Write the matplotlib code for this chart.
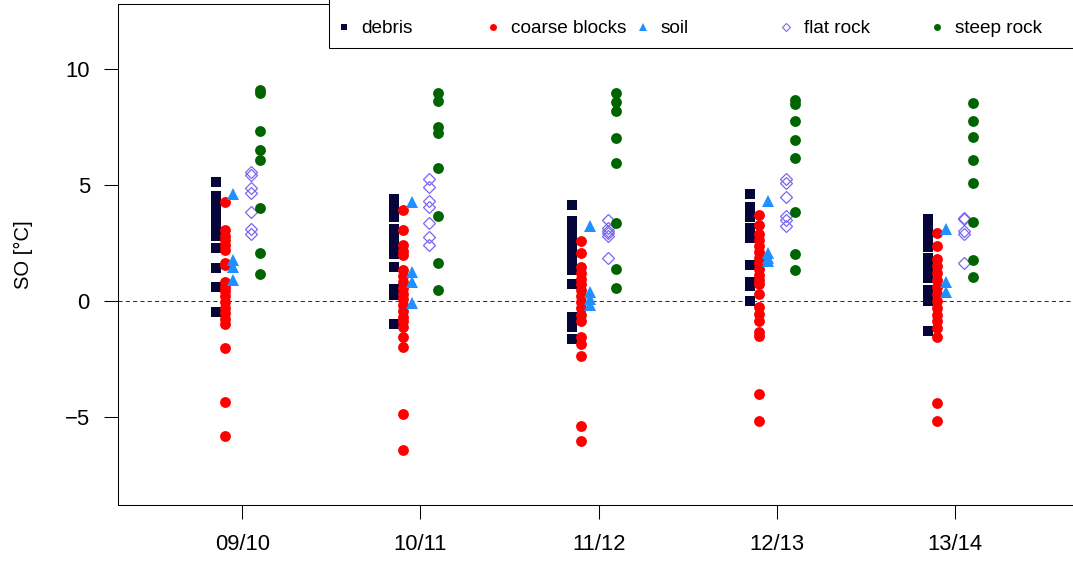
import numpy as np
import matplotlib.pyplot as plt
from matplotlib.patches import Rectangle

plt.rcParams['font.family'] = ['Liberation Sans', 'DejaVu Sans']

seasons = ['09/10', '10/11', '11/12', '12/13', '13/14']

# SO values per season (one list per season) for each surface type
debris = [
    [5.1, 4.49, 4.15, 3.8, 3.45, 3.1, 2.78, 2.25, 1.39, 0.58, -0.5],
    [4.39, 4.0, 3.61, 3.1, 2.75, 2.4, 2.03, 1.46, 0.52, 0.23, -1.0],
    [4.13, 3.45, 3.05, 2.6, 2.2, 1.75, 1.31, 0.72, -0.7, -1.15, -1.67],
    [4.58, 4.02, 3.6, 3.15, 2.71, 1.54, 0.8, 0.63, -0.01],
    [3.5, 3.1, 2.7, 2.3, 1.85, 1.4, 0.99, 0.47, 0.2, -0.02, -1.31],
]
coarse_blocks = [
    [4.26, 3.06, 2.8, 2.6, 2.38, 2.16, 1.62, 1.52, 0.8, 0.6, 0.4, 0.2, -0.05,
     -0.3, -0.55, -0.8, -1.0, -2.06, -4.37, -5.82],
    [3.9, 3.03, 2.38, 2.15, 1.95, 1.3, 1.05, 0.8, 0.55, 0.3, 0.05, -0.2,
     -0.45, -0.7, -0.9, -1.15, -1.56, -1.99, -4.9, -6.42],
    [2.57, 2.05, 1.44, 1.2, 0.95, 0.7, 0.45, 0.2, -0.05, -0.3, -0.6, -0.87,
     -1.56, -1.88, -2.38, -5.41, -6.03],
    [3.68, 3.25, 2.89, 2.6, 2.35, 2.1, 1.85, 1.6, 1.35, 1.1, 0.9, 0.72, 0.29,
     -0.29, -0.58, -0.87, -1.37, -1.52, -4.04, -5.17],
    [2.91, 2.34, 1.8, 1.5, 1.2, 0.9, 0.6, 0.3, 0.0, -0.3, -0.6, -0.9, -1.2,
     -1.56, -4.4, -5.19],
]
soil = [
    [4.6, 1.75, 1.45, 0.87],
    [4.23, 1.23, 0.82, -0.12],
    [3.2, 0.36, 0.07, -0.2],
    [4.28, 2.05, 1.85, 1.72],
    [3.1, 0.79, 0.36],
]
flat_rock = [
    [5.56, 5.41, 4.86, 4.62, 3.82, 3.10, 2.89],
    [5.22, 4.91, 4.30, 4.04, 3.35, 2.74, 2.41],
    [3.47, 3.15, 3.0, 2.9, 2.78, 1.83],
    [5.22, 5.05, 4.47, 3.64, 3.46, 3.2],
    [3.58, 3.5, 3.0, 2.88, 1.62],
]
steep_rock = [
    [9.09, 8.95, 7.32, 6.49, 6.06, 4.0, 2.05, 1.15],
    [8.95, 8.59, 7.5, 7.22, 5.7, 3.65, 1.62, 0.46],
    [8.95, 8.54, 8.15, 7.0, 5.94, 3.35, 1.36, 0.53],
    [8.66, 8.48, 7.76, 6.93, 6.16, 3.82, 2.02, 1.30],
    [8.51, 7.72, 7.07, 6.06, 5.05, 3.39, 1.77, 1.01],
]

# name, data, x offset, plot style, legend style
groups = [
    ('debris', debris, -0.15,
     dict(marker='s', ms=7.5, color='#05053a', mew=0),
     dict(marker='s', ms=4.6, color='#05053a', mew=0)),
    ('coarse blocks', coarse_blocks, -0.10,
     dict(marker='o', ms=7.8, color='#ff0000', mew=0),
     dict(marker='o', ms=5.0, color='#ff0000', mew=0)),
    ('soil', soil, -0.05,
     dict(marker='^', ms=9.0, color='#1e90ff', mew=0),
     dict(marker='^', ms=5.8, color='#1e90ff', mew=0)),
    ('flat rock', flat_rock, 0.05,
     dict(marker='D', ms=6.5, mfc='none', mec='#7b68ee', mew=0.9),
     dict(marker='D', ms=4.4, mfc='none', mec='#7b68ee', mew=0.8)),
    ('steep rock', steep_rock, 0.10,
     dict(marker='o', ms=7.8, color='#006400', mew=0),
     dict(marker='o', ms=5.0, color='#006400', mew=0)),
]

W, H = 1073, 562
fig = plt.figure(figsize=(W / 100, H / 100), dpi=100)
ax = fig.add_axes([117.6 / W, (H - 504.8) / H, (1079.7 - 117.6) / W, (504.8 - 3.6) / H])

for name, data, dx, style, _ in groups:
    for i, vals in enumerate(data):
        ax.plot(np.full(len(vals), i + 1 + dx), vals, ls='none', **style)

ax.axhline(0, color='#333333', lw=0.75, ls=(0, (4, 3)), zorder=0)

ax.set_xlim(0.3, 5.7)
ax.set_ylim(-8.8, 12.8)
ax.set_xticks(np.arange(1, 6))
ax.set_xticklabels(seasons)
ax.set_yticks([-5, 0, 5, 10])
ax.tick_params(axis='both', length=10, width=0.75, labelsize=15.8, direction='out')
ax.tick_params(axis='x', pad=11)
ax.tick_params(axis='y', pad=10)
for sp in ax.spines.values():
    sp.set_linewidth(0.75)
ax.set_ylabel('SO [°C]', fontsize=14.5)
ax.yaxis.set_label_coords(-0.088, 0.5)

# horizontal legend box in the top right corner
ax.add_patch(Rectangle((0.2197, 0.9108), 0.79, 0.1, transform=ax.transAxes,
                       fc='white', ec='black', lw=0.75, zorder=5, clip_on=False))
key_x = [0.2353, 0.3902, 0.5461, 0.6947, 0.8517]
for (name, _, _, _, lstyle), kx in zip(groups, key_x):
    ax.plot([kx], [0.9541], transform=ax.transAxes, ls='none', zorder=6,
            clip_on=False, **lstyle)
    ax.text(kx + 0.0183, 0.9407, name, transform=ax.transAxes, fontsize=13.7,
            va='baseline', ha='left', zorder=6)

fig.savefig('out.png', dpi=100)
